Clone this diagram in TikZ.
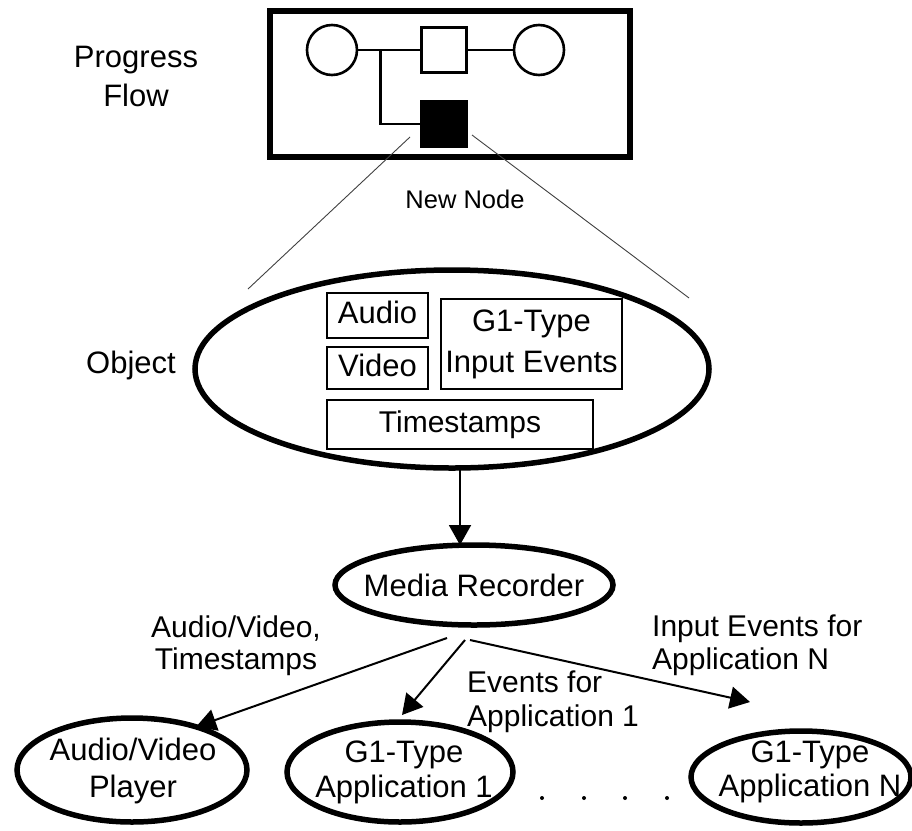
\documentclass[tikz,border=0pt]{standalone}
\usepackage{fontspec}
\setmainfont{Liberation Sans}
\usetikzlibrary{arrows.meta,shapes.geometric,calc}

\begin{document}
\begin{tikzpicture}[x=1pt,y=-1pt,
  oval/.style={ellipse, draw, line width=5.5pt, inner sep=0pt, outer sep=0pt},
  part/.style={draw, line width=1.8pt, inner sep=0pt, font=\fontsize{31}{39}\selectfont},
  flowsym/.style={draw, line width=2.6pt, inner sep=0pt, outer sep=0pt},
  big/.style={inner sep=0pt, font=\fontsize{31}{39}\selectfont},
  lbl/.style={inner sep=0pt},
  arr/.style={line width=2pt, -{Triangle[length=20pt,width=22pt]}},
  zoomline/.style={line width=0.9pt, black!75},
]
\useasboundingbox (0,0) rectangle (912,830);

% progress flow panel
\node[draw, line width=5.5pt, minimum width=360pt, minimum height=146pt, inner sep=0pt] (flowbox) at (450,84) {};
\node[flowsym, circle, minimum size=50pt] (c1) at (332,50) {};
\node[flowsym, minimum size=45pt] (sq) at (444,50) {};
\node[flowsym, circle, minimum size=50pt] (c2) at (539,50) {};
\node[flowsym, fill=black, minimum size=46pt] (newnode) at (444,124) {};
\draw[line width=2.6pt] (c1) -- (sq);
\draw[line width=2.6pt] (sq) -- (c2);
\draw[line width=2.6pt] ($(c1.east)!0.36!(sq.west)$) |- (newnode.west);

\node[big, align=center] (pf) at (136,76.5) {Progress\\Flow};
\node[inner sep=0pt, anchor=base, font=\fontsize{25.5}{30}\selectfont] (nnlbl) at (465,208) {New Node};

% the object behind the new node
\node[oval, minimum width=514pt, minimum height=198pt] (obj) at (452,369) {};
\node[big, anchor=base] (objlbl) at (131,373) {Object};

\coordinate (zl) at (248,289);
\coordinate (zr) at (689,298);
\draw[zoomline] ($(newnode.west)+(-11,13)$) -- (zl);
\draw[zoomline] ($(newnode.east)+(5,11)$) -- (zr);

\node[part, minimum width=101pt, minimum height=45pt, text height=22pt, text depth=6pt] (audio) at (377.5,315.5) {Audio};
\node[part, minimum width=101pt, minimum height=42pt, text height=22pt, text depth=6pt] (video) at (377.5,368) {Video};
\node[part, minimum width=181pt, minimum height=90pt, align=center, font=\fontsize{31}{41}\selectfont] (events) at (531.5,344) {G1-Type\\Input Events};
\node[part, minimum width=266pt, minimum height=49pt, text height=22pt, text depth=6pt, font=\fontsize{30}{36}\selectfont] (stamps) at (460,424.5) {Timestamps};

% media recorder
\node[oval, minimum width=278pt, minimum height=80pt] (mr) at (474,585) {};
\node[big] (mrtext) at (mr.center) {Media Recorder};
\draw[arr] ($(obj.south)+(8,2)$) -- ($(mr.north)+(-14,0)$);

% consumers
\node[oval, minimum width=230pt, minimum height=104pt] (av) at (132,770) {};
\node[big, align=center, font=\fontsize{31}{37}\selectfont] (avtext) at (133,771) {Audio/Video\\Player};
\node[oval, minimum width=226pt, minimum height=100pt] (app1) at (400,772) {};
\node[big, align=center, font=\fontsize{31}{35}\selectfont] (app1text) at (404,772) {G1-Type\\Application 1};
\node[oval, minimum width=220pt, minimum height=92pt] (appN) at (801,777) {};
\node[big, align=center, font=\fontsize{31}{34}\selectfont] (appNtext) at (810,772) {G1-Type\\Application N};

\coordinate (fan1) at ($(mr.south)+(-27,13)$);
\coordinate (fan2) at ($(mr.south)+(-9,15)$);
\coordinate (fan3) at ($(mr.south)+(-4,15)$);
\coordinate (tipN) at ($(appN.center)+(-51,-75)$);
\draw[arr] (fan1) -- (av.34);
\draw[arr] (fan2) -- ($(app1.north)+(2,-7)$);
\draw[arr] (fan3) -- (tipN);

\node[lbl, align=center, font=\fontsize{30}{32}\selectfont] (lblav) at (236,646) {Audio/Video,\\Timestamps};
\node[lbl, align=left, anchor=west, font=\fontsize{30}{34}\selectfont] (lbl1) at (467,702) {Events for\\Application 1};
\node[lbl, align=left, anchor=west, font=\fontsize{30}{33}\selectfont] (lblN) at (652,645) {Input Events for\\Application N};

% ellipsis between the applications
\foreach \dx in {542,584,625,667}
  \fill (\dx,798) circle (2);
\end{tikzpicture}
\end{document}
